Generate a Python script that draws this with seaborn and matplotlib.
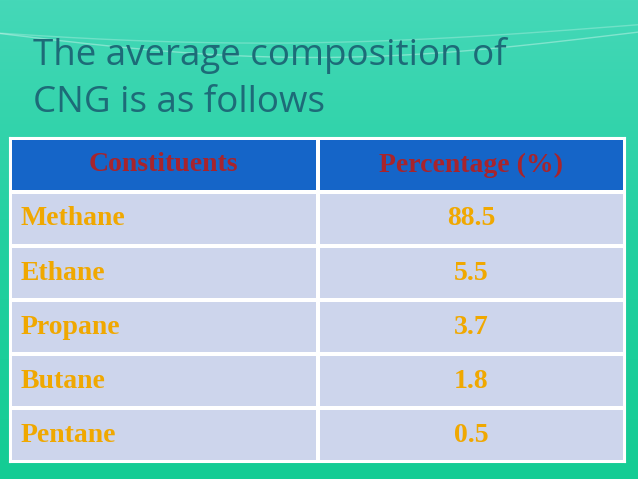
import numpy as np
import pandas as pd
import matplotlib
matplotlib.use("Agg")
import matplotlib.pyplot as plt
import seaborn as sns
from matplotlib.colors import ListedColormap, LinearSegmentedColormap

# данные таблицы
title_lines = ["The average composition of", "CNG is as follows"]
headers = ["Constituents", "Percentage (%)"]
constituents = ["Methane", "Ethane", "Propane", "Butane", "Pentane"]
percentages = ["88.5", "5.5", "3.7", "1.8", "0.5"]

sns.set_theme(style="white")

fig = plt.figure(figsize=(6.38, 4.79), dpi=100)

# фон слайда
bg = fig.add_axes([0, 0, 1, 1])
grad = np.linspace(0, 1, 256).reshape(-1, 1)
bg_cmap = LinearSegmentedColormap.from_list("bg", ["#45d8b8", "#22d0a0", "#14cc94"])
bg.imshow(grad, aspect="auto", cmap=bg_cmap, extent=[0, 1, 0, 1], origin="upper")
xs = np.linspace(0, 1, 200)
bg.plot(xs, 0.93 - 0.05 * np.sin(xs * 3.2), color="white", alpha=0.35, lw=1)
bg.plot(xs, 0.95 - 0.04 * np.sin(xs * 2.6 + 0.5), color="white", alpha=0.25, lw=1)
bg.set_xlim(0, 1)
bg.set_ylim(0, 1)
bg.axis("off")

# заголовок
for i, line in enumerate(title_lines):
    fig.text(33 / 638, 1 - (55 + 48 * i) / 479, line, fontsize=26.5,
             family="Open Sans", color="#1d6b78", va="center", ha="left")

# таблица через heatmap
kind = np.array([[0, 0]] + [[1, 1]] * len(constituents))
ax = fig.add_axes([10 / 638, 1 - 462 / 479, 615 / 638, 324 / 479])
sns.heatmap(kind, ax=ax, cmap=ListedColormap(["#1565c8", "#cdd5ec"]), cbar=False,
            linewidths=1.5, linecolor="white", xticklabels=False, yticklabels=False)

serif = "Liberation Serif"
for j, h in enumerate(headers):
    ax.text(j + 0.5, 0.5, h, ha="center", va="center", fontsize=20,
            family=serif, weight="bold", color="#a8242c")

for i, (name, val) in enumerate(zip(constituents, percentages)):
    ax.text(0.035, i + 1.5, name, ha="left", va="center", fontsize=20,
            family=serif, weight="bold", color="#f0a800")
    ax.text(1.5, i + 1.5, val, ha="center", va="center", fontsize=20,
            family=serif, weight="bold", color="#f0a800")

for s in ax.spines.values():
    s.set_visible(True)
    s.set_color("white")
    s.set_linewidth(1.5)

fig.savefig("out.png", dpi=100)
